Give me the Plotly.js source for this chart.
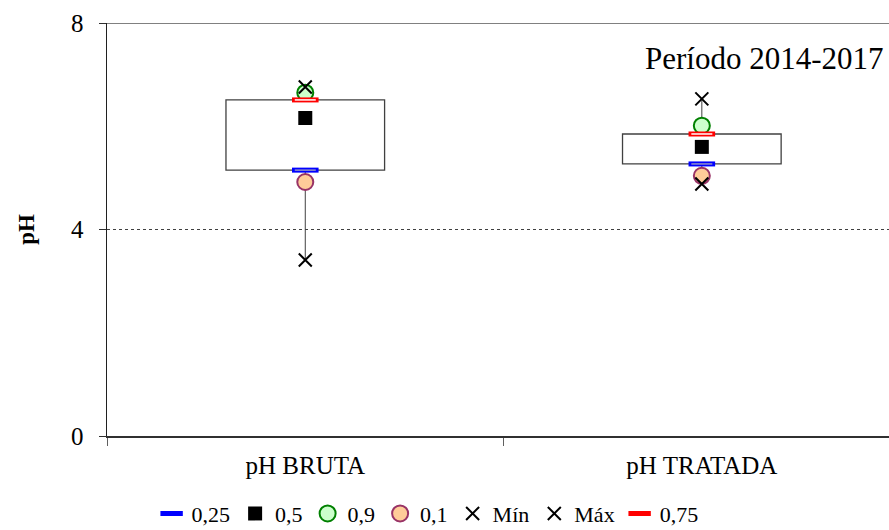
<!DOCTYPE html>
<html>
<head>
<meta charset="utf-8">
<script src="https://cdn.plot.ly/plotly-3.0.1.min.js"></script>
<style>
html, body { margin:0; padding:0; overflow:hidden; background:#fff; }
#chart { width:889px; height:530px; }
</style>
</head>
<body>
<div id="chart"></div>
<script>
// ---- data ----
const categories = ["pH BRUTA", "pH TRATADA"];
const q25 = [5.15, 5.27];
const q50 = [6.16, 5.60];
const q90 = [6.65, 6.01];
const q10 = [4.92, 5.04];
const vMin = [3.41, 4.88];
const vMax = [6.76, 6.53];
const q75 = [6.51, 5.85];
const periodLabel = "Período 2014-2017";
const yTicks = [0, 4, 8];

const FONT = "Liberation Serif, Times New Roman, serif";

// whisker segments: min->q25 and q75->max
const wx = [], wy = [];
categories.forEach((c, i) => {
  wx.push(c, c, null, c, c, null);
  wy.push(vMin[i], q25[i], null, q75[i], vMax[i], null);
});

const traces = [
  { type: "bar", x: categories, base: q25, y: q25.map((v, i) => q75[i] - v),
    width: 0.4, marker: { color: "#ffffff", line: { color: "#404040", width: 1.3 } },
    showlegend: false, hoverinfo: "skip" },
  { type: "scatter", mode: "lines", x: wx, y: wy,
    line: { color: "#404040", width: 1 }, showlegend: false, hoverinfo: "skip" },
  { type: "scatter", mode: "markers", name: "0,25", x: categories, y: q25,
    marker: { symbol: "line-ew", size: 19, color: "#0000ff", line: { color: "#0000ff", width: 5 } } },
  { type: "scatter", mode: "markers", name: "0,25", x: categories, y: q25, showlegend: false,
    marker: { symbol: "line-ew", size: 15, color: "#9090c8", line: { color: "#9090c8", width: 1.5 } } },
  { type: "scatter", mode: "markers", name: "0,5", x: categories, y: q50,
    marker: { symbol: "square", size: 14, color: "#000000" } },
  { type: "scatter", mode: "markers", name: "0,9", x: categories, y: q90,
    marker: { symbol: "circle", size: 16, color: "#ccffcc", line: { color: "#008000", width: 2 } } },
  { type: "scatter", mode: "markers", name: "0,1", x: categories, y: q10,
    marker: { symbol: "circle", size: 16, color: "#ffcc99", line: { color: "#993366", width: 2 } } },
  { type: "scatter", mode: "markers", name: "Mín", x: categories, y: vMin,
    marker: { symbol: "x-thin-open", size: 13, color: "#000000", line: { color: "#000000", width: 2 } } },
  { type: "scatter", mode: "markers", name: "Máx", x: categories, y: vMax,
    marker: { symbol: "x-thin-open", size: 13, color: "#000000", line: { color: "#000000", width: 2 } } },
  { type: "scatter", mode: "markers", name: "0,75", x: categories, y: q75,
    marker: { symbol: "line-ew", size: 19, color: "#ff0000", line: { color: "#ff0000", width: 5 } } },
  { type: "scatter", mode: "markers", name: "0,75", x: categories, y: q75, showlegend: false,
    marker: { symbol: "line-ew", size: 15, color: "#ffffff", line: { color: "#ffffff", width: 1.5 } } }
];

const layout = {
  width: 889, height: 530,
  margin: { l: 107, r: 0, t: 23, b: 94, autoexpand: false },
  paper_bgcolor: "#ffffff", plot_bgcolor: "#ffffff",
  font: { family: FONT, color: "#000000", size: 22 },
  showlegend: true,
  legend: { orientation: "h", x: 0.41, xanchor: "center", y: -0.188, yanchor: "middle",
    font: { family: FONT, size: 22 }, itemwidth: 30, tracegroupgap: 0,
    bgcolor: "rgba(0,0,0,0)" },
  xaxis: { type: "category", range: [-0.5, 1.472], showline: true, linecolor: "#303030", linewidth: 1.5,
    ticks: "outside", tickson: "boundaries", ticklen: 8, tickcolor: "#606060",
    ticklabelstandoff: 6, automargin: false,
    showgrid: false, zeroline: false, tickfont: { size: 25, family: FONT } },
  yaxis: { range: [0, 8], tickvals: yTicks, ticktext: yTicks.map(String),
    showline: true, linecolor: "#202020", linewidth: 1.5,
    ticks: "outside", ticklen: 7, tickcolor: "#303030",
    ticklabelstandoff: 10, automargin: false,
    showgrid: true, gridcolor: "#404040", griddash: "dot", gridwidth: 1,
    zeroline: false, tickfont: { size: 25, family: FONT },
    title: { text: "<b>pH</b>", font: { size: 23, family: FONT }, standoff: 30 } },
  shapes: [
    { type: "line", xref: "paper", yref: "y", x0: 0, x1: 1, y0: 8, y1: 8,
      line: { color: "#808080", width: 2 } }
  ],
  annotations: [
    { text: periodLabel, xref: "paper", yref: "paper", x: 1, y: 0.915, xshift: -3,
      xanchor: "right", yanchor: "middle", showarrow: false,
      font: { family: FONT, size: 31, color: "#000000" } }
  ],
  hovermode: false
};

Plotly.newPlot("chart", traces, layout, { displayModeBar: false, staticPlot: true });
</script>
</body>
</html>
